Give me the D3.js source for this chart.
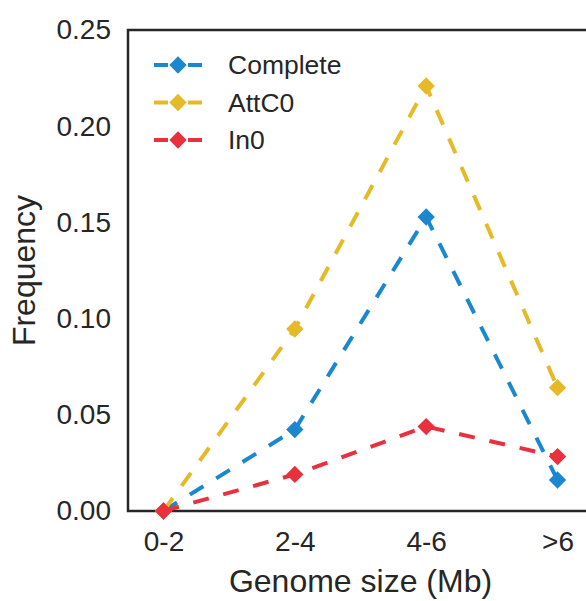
<!DOCTYPE html>
<html>
<head>
  <style>
  body {
    margin: 0;
    background: #fff;
    font-family: "Liberation Sans", Arial, sans-serif;
  }
  svg { display: block; }
  .axis .domain { display: none; }
  .axis text { fill: #262626; font-size: 28px; }
  .label { fill: #262626; font-size: 32px; }
  .legend text { fill: #262626; font-size: 26.5px; }
  </style>
</head>
<body>
  <div id="chart"></div>
  <script src="https://d3js.org/d3.v7.min.js"></script>
  <script>
  var categories = ["0-2", "2-4", "4-6", ">6"];
  var complete = [0.000, 0.0423, 0.1528, 0.0161];
  var attC0 = [0.000, 0.0946, 0.2209, 0.0641];
  var in0 = [0.000, 0.0190, 0.0439, 0.0283];
  var yTicks = [0, 0.05, 0.10, 0.15, 0.20, 0.25];

  var series = [
    {name: "Complete", values: complete, color: "#1b87cf"},
    {name: "AttC0", values: attC0, color: "#e6b926"},
    {name: "In0", values: in0, color: "#e8303f"}
  ];

  var W = 586, H = 601;
  var margin = {top: 30, left: 128, right: -7, bottom: 90};
  var width = W - margin.left - margin.right,
      height = H - margin.top - margin.bottom;

  var svg = d3.select("#chart").append("svg")
      .attr("width", W)
      .attr("height", H);

  var g = svg.append("g")
      .attr("transform", "translate(" + margin.left + "," + margin.top + ")");

  var x = d3.scalePoint()
    .domain(categories)
    .range([0, width])
    .padding(0.27);

  var y = d3.scaleLinear()
    .domain([0, 0.25])
    .range([height, 0]);

  g.append("g")
      .attr("class", "x axis")
      .attr("transform", "translate(0," + height + ")")
      .call(d3.axisBottom(x).tickSize(0).tickPadding(20));

  g.append("g")
      .attr("class", "y axis")
      .call(d3.axisLeft(y).tickValues(yTicks).tickSize(0).tickPadding(17)
        .tickFormat(d3.format(".2f")));

  g.selectAll(".axis text").style("font-family", "'Liberation Sans', Arial, sans-serif");

  // frame
  g.append("rect")
      .attr("width", width)
      .attr("height", height)
      .attr("fill", "none")
      .attr("stroke", "#262626")
      .attr("stroke-width", 2.5);

  var line = d3.line()
    .x(function(d, i){ return x(categories[i]); })
    .y(function(d){ return y(d); });

  var diamond = d3.symbol().type(d3.symbolSquare).size(150);

  series.forEach(function(s){
    g.append("path")
        .datum(s.values)
        .attr("d", line)
        .attr("fill", "none")
        .attr("stroke", s.color)
        .attr("stroke-width", 4)
        .attr("stroke-dasharray", "16,15");

    g.selectAll(null)
        .data(s.values)
      .enter().append("path")
        .attr("d", diamond)
        .attr("transform", function(d, i){
          return "translate(" + x(categories[i]) + "," + y(d) + ") rotate(45)";
        })
        .attr("fill", s.color);
  });

  // axis titles
  g.append("text")
      .attr("class", "label")
      .attr("x", width / 2)
      .attr("y", height + 81)
      .attr("text-anchor", "middle")
      .text("Genome size (Mb)");

  g.append("text")
      .attr("class", "label")
      .attr("transform", "translate(" + (-93) + "," + (height / 2) + ") rotate(-90)")
      .attr("text-anchor", "middle")
      .text("Frequency");

  // legend
  var legend = g.append("g")
      .attr("class", "legend")
      .attr("transform", "translate(26,35)");

  var item = legend.selectAll("g")
      .data(series)
    .enter().append("g")
      .attr("transform", function(d, i){ return "translate(0," + (i * 37.5) + ")"; });

  item.append("line")
      .attr("x1", 0)
      .attr("x2", 48)
      .attr("stroke", function(d){ return d.color; })
      .attr("stroke-width", 4)
      .attr("stroke-dasharray", "14,20");

  item.append("path")
      .attr("d", diamond)
      .attr("transform", "translate(24,0) rotate(45)")
      .attr("fill", function(d){ return d.color; });

  item.append("text")
      .attr("x", 74)
      .attr("dy", "0.35em")
      .text(function(d){ return d.name; });
  </script>
</body>
</html>
